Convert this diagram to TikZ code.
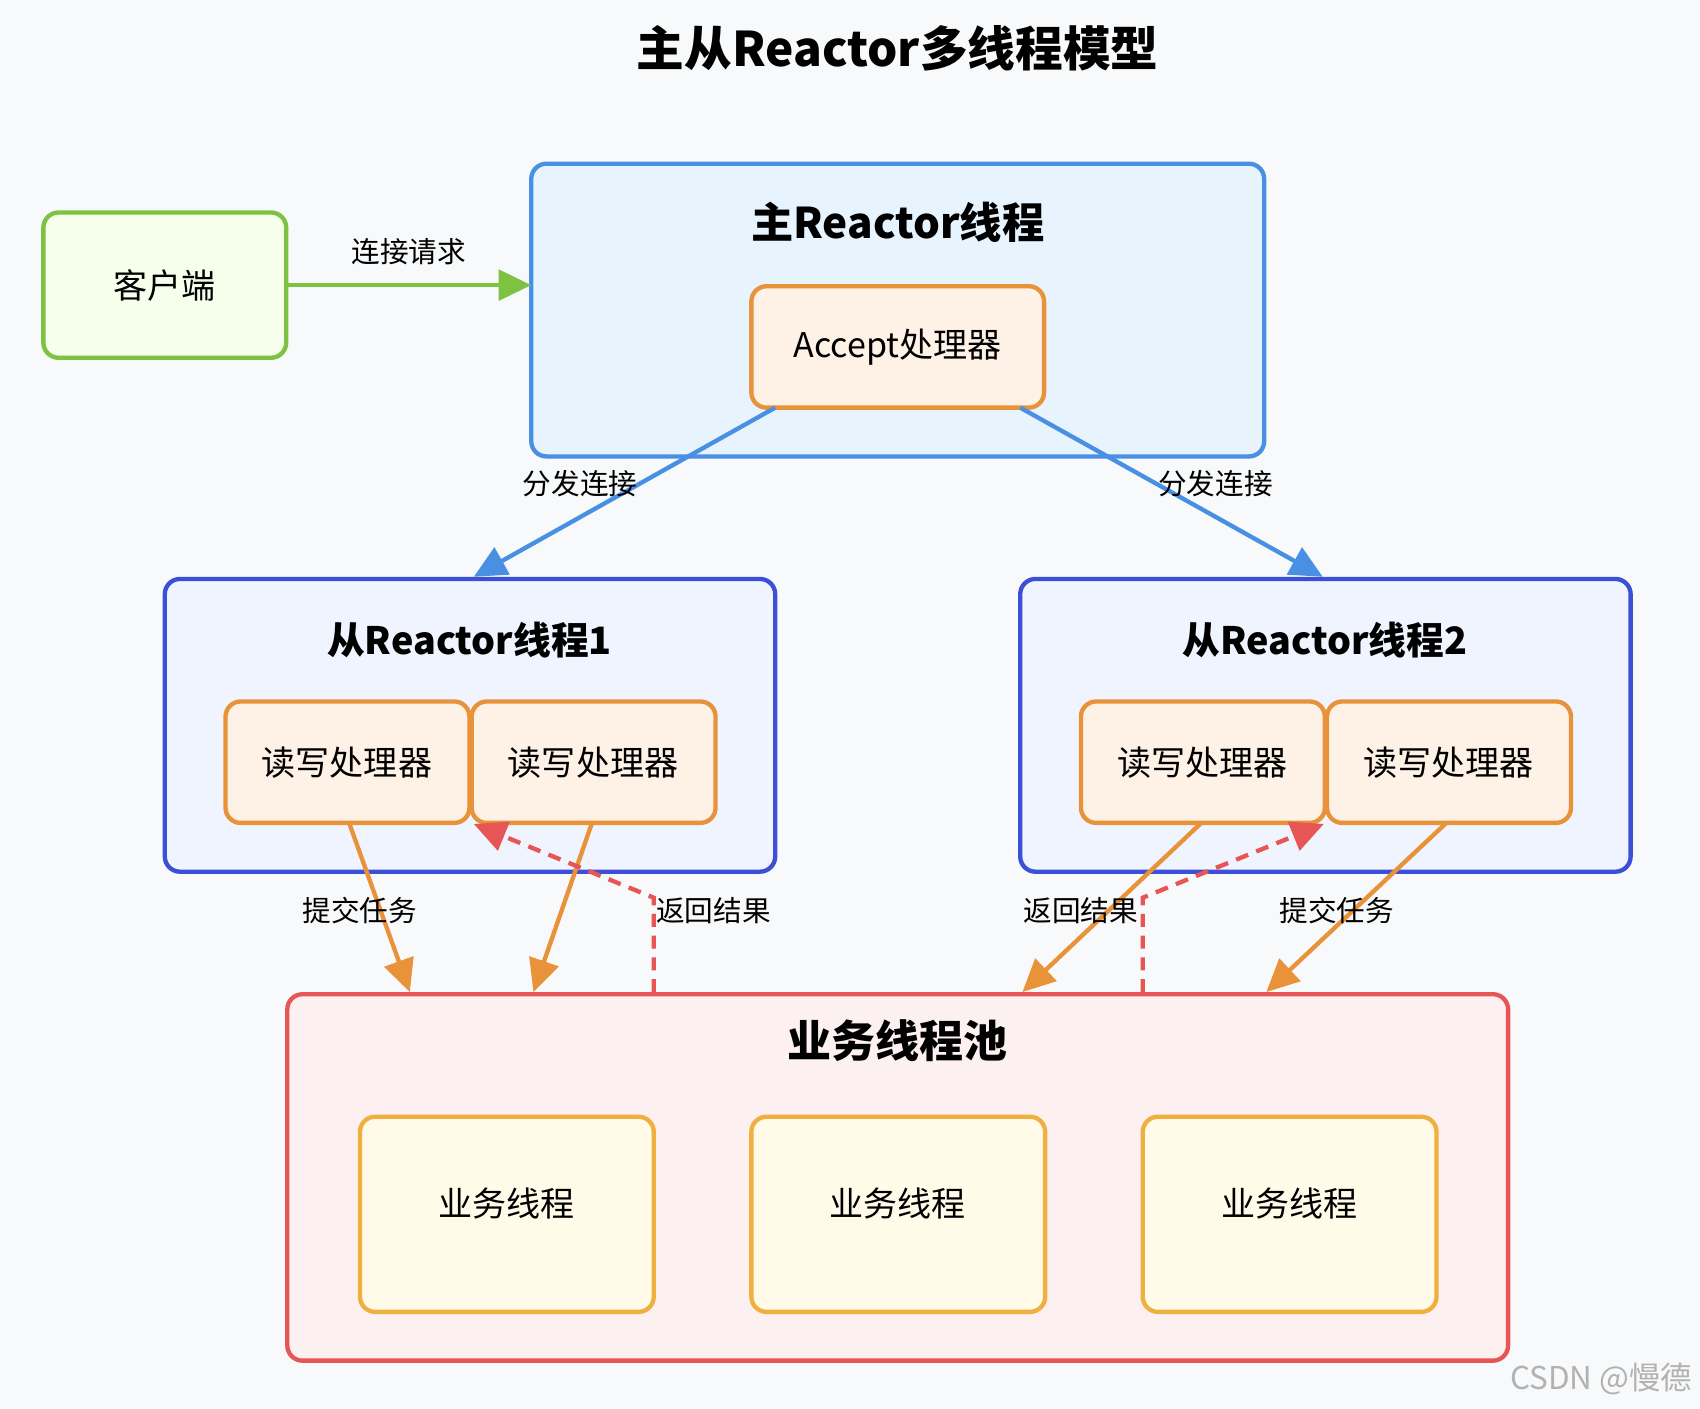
\documentclass[tikz,border=0pt]{standalone}
\usepackage{fontspec}
\setmainfont{Noto Sans CJK SC}
\usetikzlibrary{arrows.meta}
\definecolor{bg}{HTML}{F8F9FA}
\definecolor{gB}{HTML}{7DC241}\definecolor{gF}{HTML}{F6FFEC}
\definecolor{mB}{HTML}{4A90E2}\definecolor{mF}{HTML}{E8F4FD}
\definecolor{oB}{HTML}{E8923A}\definecolor{oF}{HTML}{FEF1E6}
\definecolor{sB}{HTML}{3B50D6}\definecolor{sF}{HTML}{F0F4FE}
\definecolor{rB}{HTML}{E85555}\definecolor{rF}{HTML}{FDF0F0}
\definecolor{yB}{HTML}{F0B040}\definecolor{yF}{HTML}{FFFBE8}
\begin{document}
\begin{tikzpicture}[x=0.5pt,y=-0.5pt,
 box/.style={draw=#1,line width=2pt,rounded corners=7pt,inner sep=0pt},
 lbl/.style={font=\fontsize{13.2}{15}\selectfont,inner sep=1pt},
 ttl/.style={font=\bfseries\fontsize{19.5}{22}\selectfont},
 sttl/.style={font=\bfseries\fontsize{17.4}{20}\selectfont},
 txt/.style={font=\fontsize{15.7}{18}\selectfont},
 tip/.style={-{Triangle[length=15pt,width=14pt]}},
 ar/.style={line width=2pt,tip,draw=#1,#1}]
\fill[bg] (0,0) rectangle (1568,1299);
\useasboundingbox (0,0) rectangle (1568,1299);
\node[font=\bfseries\fontsize{22}{26}\selectfont] (title) at (828,45) {主从Reactor多线程模型};
% client
\draw[box=gB,fill=gF] (40,196) rectangle (264,330);
\node[txt] (cli) at (152,263) {客户端};
% main reactor
\draw[box=mB,fill=mF] (490,151) rectangle (1166,421);
\coordinate (mainW) at (490,263);
\node[ttl] (mt) at (828,205) {主Reactor线程};
\draw[box=oB,fill=oF] (693,264) rectangle (963,376);
\node[txt] (acc) at (828,320) {Accept处理器};
% sub reactors
\draw[box=sB,fill=sF] (152,534) rectangle (715,804);
\node[sttl] (s1t) at (433,590) {从Reactor线程1};
\draw[box=sB,fill=sF] (941,534) rectangle (1504,804);
\node[sttl] (s2t) at (1222,590) {从Reactor线程2};
\foreach \x/\n in {208/a,435/b,997/c,1224/d}{
 \draw[box=oB,fill=oF] (\x,647) rectangle (\x+225,759);
 \node[txt] (rw\n) at (\x+112,703) {读写处理器};}
% pool
\draw[box=rB,fill=rF] (265,917) rectangle (1391,1255);
\node[font=\bfseries\fontsize{20.3}{23}\selectfont] (pt) at (828,960) {业务线程池};
\foreach \x/\n in {332/1,693/2,1054/3}{
 \draw[box=yB,fill=yF] (\x,1030) rectangle (\x+271,1210);
 \node[txt] (bt\n) at (\x+135,1110) {业务线程};}
% arrows
\draw[ar=gB] (264,263) -- (mainW);
\node[lbl] at (377,232) {连接请求};
\draw[ar=mB] (715,376) -- (437,532);
\draw[ar=mB] (941,376) -- (1220,532);
\node[lbl] at (535,446) {分发连接};
\node[lbl] at (1121,446) {分发连接};
\draw[ar=oB] (322,759) -- (378,915);
\draw[ar=oB] (546,759) -- (492,915);
\draw[ar=oB] (1108,759) -- (943,915);
\draw[ar=oB] (1334,759) -- (1168,915);
\draw[ar=rB,dashed,dash pattern=on 6pt off 4pt] (603,915) -- (603,828) -- (437,760);
\draw[ar=rB,dashed,dash pattern=on 6pt off 4pt] (1054,915) -- (1054,828) -- (1221,760);
\node[lbl] at (332,840) {提交任务};
\node[lbl] at (658,840) {返回结果};
\node[lbl] at (997,840) {返回结果};
\node[lbl] at (1233,840) {提交任务};
\node[font=\fontsize{14.5}{16}\selectfont,text=gray!60] at (1477,1272) {CSDN @慢德};
\end{tikzpicture}
\end{document}
